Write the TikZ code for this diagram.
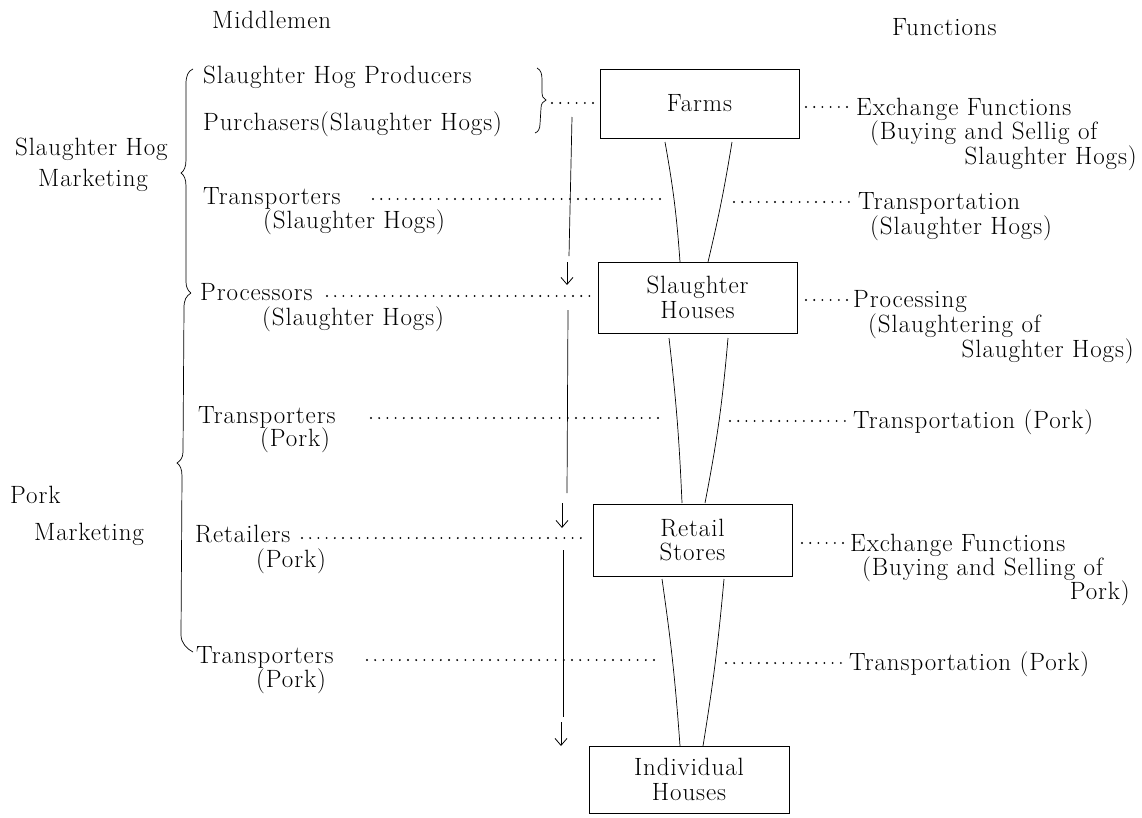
\documentclass[tikz,border=0pt]{standalone}
\usepackage{fontspec}
\setmainfont{Latin Modern Roman}[LetterSpace=3.6]
\usetikzlibrary{arrows.meta}
\begin{document}
\begin{tikzpicture}[x=1pt,y=-1pt,
  font=\fontsize{25}{24.5}\selectfont,
  txt/.style={anchor=base west, inner sep=0pt},
  txtr/.style={anchor=base east, inner sep=0pt},
  box/.style={draw, line width=0.8pt, minimum width=199pt, minimum height=70pt, align=center, inner sep=0pt},
  dots/.style={line width=2.1pt, dash pattern=on 0pt off 8.2pt, line cap=round},
  thinline/.style={line width=0.7pt},
  darrow/.style={-{Straight Barb[length=7pt,width=12pt]}, line width=0.8pt}]
\useasboundingbox (0,0) rectangle (1142,817);

% headers
\node[txt] (hmid) at (212,28) {Middlemen};
\node[txt] (hfun) at (892,35) {Functions};

% boxes
\node[box, minimum height=69pt] (farms) at (699.5,103.5) {Farms};
\node[box, minimum height=71pt] (slh) at (697.5,297.5) {Slaughter\\Houses};
\node[box, minimum height=72pt] (ret) at (692.5,540) {Retail\\Stores};
\node[box, minimum width=200pt, minimum height=67pt] (ind) at (689,779.5) {Individual\\Houses};

% group labels
\node[txt] (gsh1) at (15,155) {Slaughter Hog};
\node[txt] (gsh2) at (38,186) {Marketing};
\node[txt] (gpk1) at (10,503) {Pork};
\node[txt] (gpk2) at (34,540) {Marketing};

% middlemen
\node[txt] (m1) at (203,83) {Slaughter Hog Producers};
\node[txt] (m2) at (203,130) {Purchasers(Slaughter Hogs)};
\node[txt] (m3) at (203,204) {Transporters};
\node[txt] (m3b) at (263,228) {(Slaughter Hogs)};
\node[txt] (m4) at (200,300) {Processors};
\node[txt] (m4b) at (262,325) {(Slaughter Hogs)};
\node[txt] (m5) at (198,423) {Transporters};
\node[txt] (m5b) at (260,446) {(Pork)};
\node[txt] (m6) at (195,542) {Retailers};
\node[txt] (m6b) at (256,567) {(Pork)};
\node[txt] (m7) at (196,663) {Transporters};
\node[txt] (m7b) at (256,687) {(Pork)};

% functions
\node[txt] (f1) at (856,115) {Exchange Functions};
\node[txt] (f1b) at (870,139) {(Buying and Sellig of};
\node[txtr] (f1c) at (1137,164) {Slaughter Hogs)};
\node[txt] (f2) at (858,209) {Transportation};
\node[txt] (f2b) at (870,234) {(Slaughter Hogs)};
\node[txt] (f3) at (853,307) {Processing};
\node[txt] (f3b) at (868,332) {(Slaughtering of};
\node[txtr] (f3c) at (1134,357) {Slaughter Hogs)};
\node[txt] (f4) at (853,428) {Transportation (Pork)};
\node[txt] (f5) at (850,551) {Exchange Functions};
\node[txt] (f5b) at (862,575) {(Buying and Selling of};
\node[txtr] (f5c) at (1130,599) {Pork)};
\node[txt] (f6) at (849,670) {Transportation (Pork)};

% braces
\draw[thinline] (193,69) .. controls (188,71) and (186,76) .. (186,84) -- (186,160)
  .. controls (186,167) and (184,171) .. (181,173) .. controls (184,175) and (186,179) .. (186,186)
  -- (186,282) .. controls (186,287) and (188,291) .. (191,293);
\draw[thinline] (191,293) .. controls (186,296) and (184,300) .. (184,308) -- (183,452)
  .. controls (183,458) and (180,461) .. (177,463) .. controls (180,465) and (182,469) .. (182,476)
  -- (181,635) .. controls (181,643) and (187,649) .. (193,652);
\draw[thinline] (537,68) .. controls (541,70) and (542,74) .. (542,80) -- (542,92)
  .. controls (542,96) and (543,99) .. (546,100) .. controls (543,101) and (541,104) .. (541,108)
  -- (540,124) .. controls (540,129) and (538,132) .. (535,133);

% dotted leaders (left)
\coordinate (l1a) at (552,103); \coordinate (l1b) at (595,103);
\coordinate (l2a) at (373,199); \coordinate (l2b) at (668,199);
\coordinate (l3a) at (327,296); \coordinate (l3b) at (593,296);
\coordinate (l4a) at (371,418); \coordinate (l4b) at (665,418);
\coordinate (l5a) at (302,538); \coordinate (l5b) at (588,538);
\coordinate (l6a) at (367,660); \coordinate (l6b) at (660,660);
\foreach \i in {1,...,6} \draw[dots] (l\i a) -- (l\i b);

% dotted leaders (right)
\coordinate (r1a) at (806,107); \coordinate (r1b) at (850,107);
\coordinate (r2a) at (734,202); \coordinate (r2b) at (853,202);
\coordinate (r3a) at (806,300); \coordinate (r3b) at (848,300);
\coordinate (r4a) at (730,421); \coordinate (r4b) at (848,421);
\coordinate (r5a) at (802,543); \coordinate (r5b) at (845,543);
\coordinate (r6a) at (726,663); \coordinate (r6b) at (845,663);
\foreach \i in {1,...,6} \draw[dots] (r\i a) -- (r\i b);

% links between boxes
\coordinate (s1a) at (665,142); \coordinate (s1b) at (680,262);
\coordinate (s1c) at (732,142); \coordinate (s1d) at (708,262);
\coordinate (s2a) at (669,338); \coordinate (s2b) at (682,503);
\coordinate (s2c) at (728,338); \coordinate (s2d) at (705,503);
\coordinate (s3a) at (662,579); \coordinate (s3b) at (680,746);
\coordinate (s3c) at (724,579); \coordinate (s3d) at (703,746);
\draw[thinline] (s1a) to[bend left=3] (s1b);
\draw[thinline] (s1c) to[bend left=2] (s1d);
\draw[thinline] (s2a) to[bend left=2] (s2b);
\draw[thinline] (s2c) to[bend left=3] (s2d);
\draw[thinline] (s3a) to[bend left=2] (s3b);
\draw[thinline] (s3c) to[bend left=2] (s3d);

% flow arrow
\coordinate (v1) at (572,117); \coordinate (v2) at (569,256);
\coordinate (v3) at (568,310); \coordinate (v4) at (567,493);
\coordinate (v5) at (563,550); \coordinate (v6) at (563,717);
\coordinate (a1) at (567,262); \coordinate (a1e) at (567,285);
\coordinate (a2) at (562,503); \coordinate (a2e) at (562,528);
\coordinate (a3) at (561,722); \coordinate (a3e) at (561,746);
\draw[thinline] (v1) -- (v2);
\draw[thinline] (v3) -- (v4);
\draw[thinline] (v5) -- (v6);
\draw[darrow] (a1) -- (a1e);
\draw[darrow] (a2) -- (a2e);
\draw[darrow] (a3) -- (a3e);
\end{tikzpicture}
\end{document}
